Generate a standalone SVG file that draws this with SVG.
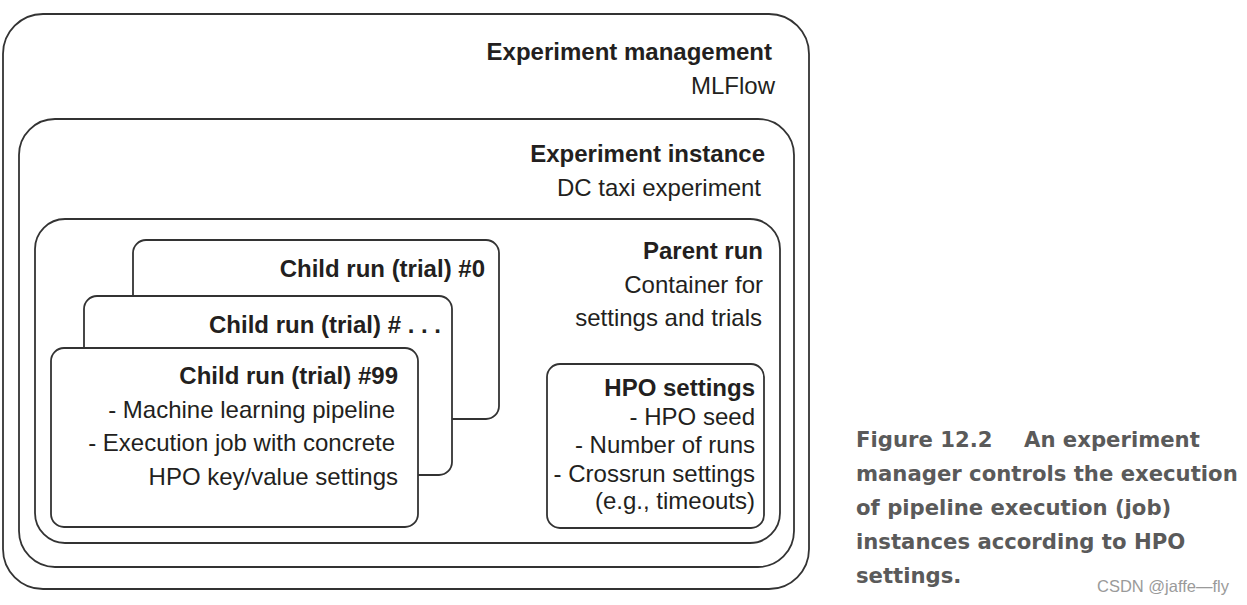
<svg xmlns="http://www.w3.org/2000/svg" width="1247" height="605" viewBox="0 0 1247 605">
<style>
.box{fill:#fff;stroke:#333;stroke-width:1.8}
.t{font-family:"Liberation Sans",Arial,sans-serif;font-size:24px;fill:#231f20;text-anchor:end}
.b{font-weight:bold}
.cap{font-family:"DejaVu Sans",sans-serif;font-weight:bold;font-size:21.2px;fill:#5a5a5a}
.wm{font-family:"Liberation Sans",Arial,sans-serif;font-size:16.5px;fill:#9a9a9a}
</style>
<rect width="1247" height="605" fill="#fff"/>
<g id="experiment-management">
<rect class="box" x="3" y="14" width="806" height="575" rx="40"/>
<text class="t b" x="772" y="60">Experiment management</text>
<text class="t" x="775" y="94">MLFlow</text>
</g>
<g id="experiment-instance">
<rect class="box" x="19" y="119" width="775" height="448" rx="36"/>
<text class="t b" x="765" y="162">Experiment instance</text>
<text class="t" x="761" y="196">DC taxi experiment</text>
</g>
<g id="parent-run">
<rect class="box" x="35" y="219" width="745" height="324" rx="30"/>
<text class="t b" x="763" y="259">Parent run</text>
<text class="t" x="763" y="293">Container for</text>
<text class="t" x="762" y="326">settings and trials</text>
</g>
<g id="child-0">
<rect class="box" x="133" y="240" width="366" height="179" rx="13"/>
<text class="t b" x="485" y="277">Child run (trial) #0</text>
</g>
<g id="child-n">
<rect class="box" x="84" y="296" width="368" height="179" rx="13"/>
<text class="t b" x="441" y="333">Child run (trial) # . . .</text>
</g>
<g id="child-99">
<rect class="box" x="51" y="348" width="367" height="179" rx="13"/>
<text class="t b" x="398" y="384">Child run (trial) #99</text>
<text class="t" x="395" y="418">- Machine learning pipeline</text>
<text class="t" x="395" y="451">- Execution job with concrete</text>
<text class="t" x="398" y="485">HPO key/value settings</text>
</g>
<g id="hpo-settings">
<rect class="box" x="547" y="364" width="217" height="164" rx="13"/>
<text class="t b" x="755" y="396">HPO settings</text>
<text class="t" x="755" y="425">- HPO seed</text>
<text class="t" x="755" y="453">- Number of runs</text>
<text class="t" x="755" y="482">- Crossrun settings</text>
<text class="t" x="755" y="509">(e.g., timeouts)</text>
</g>
<g id="connectors"></g>
<g id="caption">
<text class="cap" x="856" y="447">Figure 12.2</text>
<text class="cap" x="1024" y="447">An experiment</text>
<text class="cap" x="856" y="481">manager controls the execution</text>
<text class="cap" x="856" y="515">of pipeline execution (job)</text>
<text class="cap" x="856" y="549">instances according to HPO</text>
<text class="cap" x="856" y="583">settings.</text>
<text class="wm" x="1097" y="592">CSDN @jaffe—fly</text>
</g>
</svg>
